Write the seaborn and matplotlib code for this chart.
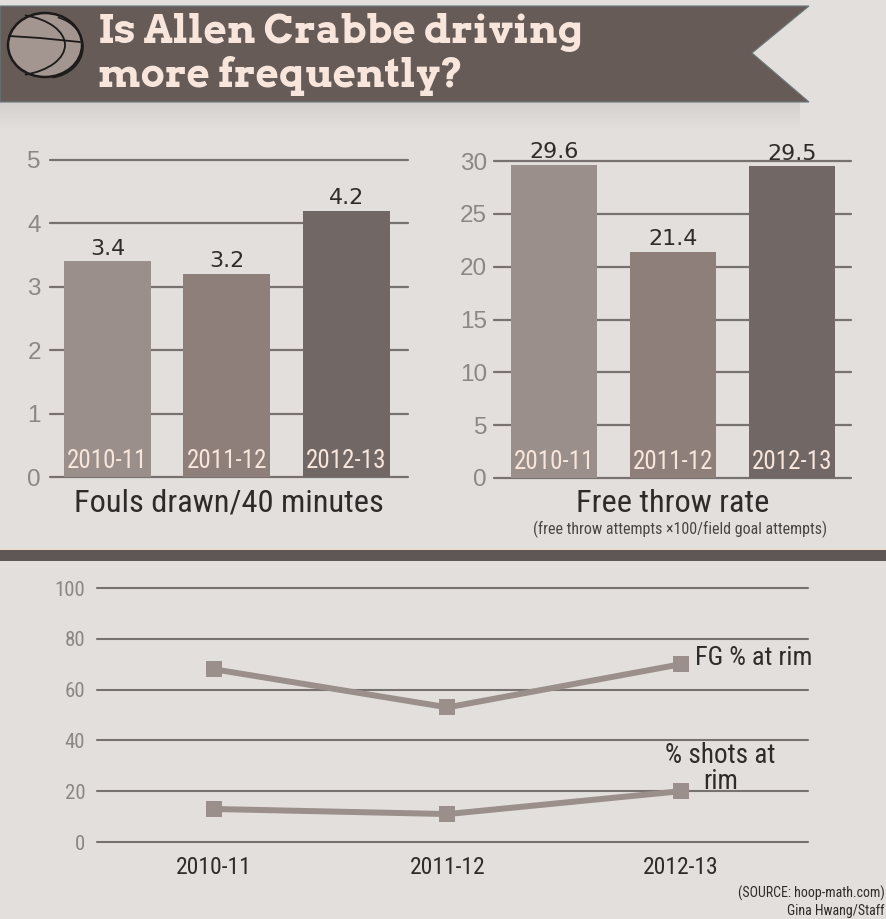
import numpy as np
import pandas as pd
import matplotlib
matplotlib.use("Agg")
import matplotlib.pyplot as plt
from matplotlib.patches import Polygon, Rectangle, Ellipse, Arc
import seaborn as sns

seasons = ["2010-11", "2011-12", "2012-13"]
fouls = [3.4, 3.2, 4.2]
ft_rate = [29.6, 21.4, 29.5]
fg_rim = [68, 53, 70]
shots_rim = [13, 11, 20]
fouls_ticks = [0, 1, 2, 3, 4, 5]
ft_ticks = [0, 5, 10, 15, 20, 25, 30]
pct_ticks = [0, 20, 40, 60, 80, 100]

W, H = 886, 919
BG = "#e3dfdc"
BAN = "#675b58"
PALE = "#f8e6dc"
GRID = "#77726f"
TICK = "#8b8785"
DARK = "#2e2b2a"
bar_cols = ["#9a8f8a", "#8e7f7a", "#716765"]
NARROW = ["Roboto Condensed", "Liberation Sans Narrow", "Liberation Sans"]
SLAB = ["Arvo", "DejaVu Serif"]

sns.set_theme(style="white", rc={"figure.facecolor": BG, "axes.facecolor": "none"})
plt.rcParams["font.family"] = ["Liberation Sans", "DejaVu Sans"]

fig = plt.figure(figsize=(W / 100, H / 100), dpi=100)


def px_axes(x0, y0, x1, y1, **kw):
    # pixel box (y from top) to figure fraction
    return fig.add_axes([x0 / W, 1 - y1 / H, (x1 - x0) / W, (y1 - y0) / H], **kw)


# background decoration in pixel coords
bg = px_axes(0, 0, W, H)
bg.axis("off")
shade = np.zeros((30, 1, 4))
shade[:, 0, 3] = np.linspace(0.07, 0, 30)
bg.imshow(shade, extent=[0, 800, 130, 102], aspect="auto")
bg.set_xlim(0, W)
bg.set_ylim(H, 0)
bg.add_patch(Polygon([(0, 6), (809, 6), (752, 53), (809, 102), (0, 102)], fc=BAN, ec="#6b7a7c", lw=0.8))
bg.add_patch(Rectangle((0, 550), W, 11, fc="#5f5755", ec="none"))
bg.add_patch(Rectangle((0, 549), W, 1, fc="#f0d8cc", ec="none"))

# basketball
bg.add_patch(Ellipse((45, 45), 74, 64, fc="#a3958f", ec="#1d1a1a", lw=1.8))
bg.add_patch(Arc((9, 45), 112, 62, theta1=-62, theta2=62, ec="#1d1a1a", lw=1.3))
bg.add_patch(Arc((47, 47), 72, 62, theta1=-70, theta2=80, ec="#1d1a1a", lw=1.1))
bg.plot([9, 40, 80], [36, 38, 42], color="#1d1a1a", lw=1.3)

bg.text(98, 32, "Is Allen Crabbe driving", color=PALE, fontsize=29, family=SLAB,
        fontweight="bold", va="center", ha="left")
bg.text(98, 76, "more frequently?", color=PALE, fontsize=29, family=SLAB,
        fontweight="bold", va="center", ha="left")
bg.text(885, 893, "(SOURCE: hoop-math.com)", color=DARK, fontsize=10, family=NARROW, ha="right", va="center")
bg.text(885, 911, "Gina Hwang/Staff", color=DARK, fontsize=10, family=NARROW, ha="right", va="center")


def bar_panel(box, values, ticks, xlim, label, pad, ymax):
    ax = px_axes(*box)
    df = pd.DataFrame({"season": seasons, "value": values})
    sns.barplot(data=df, x="season", y="value", hue="season", palette=bar_cols, saturation=1,
                width=0.727, legend=False, linewidth=0, ax=ax)
    ax.set_xlim(*xlim)
    ax.set_ylim(0, ymax)
    ax.set_yticks(ticks)
    ax.set_xticks([])
    ax.set_ylabel("")
    ax.set_xlabel(label, fontsize=23.3, family=NARROW, color=DARK, labelpad=8)
    ax.tick_params(axis="y", labelsize=17.5, labelcolor=TICK, length=0, pad=pad)
    ax.set_axisbelow(True)
    ax.grid(axis="y", color=GRID, lw=1.6)
    for g in ax.get_ygridlines():
        g.set_clip_on(False)
    sns.despine(ax=ax, left=True, bottom=True)
    for c in ax.containers:
        ax.bar_label(c, fmt="%.1f", fontsize=16, family="DejaVu Sans", color=DARK, padding=2)
    for i, s in enumerate(seasons):
        ax.text(i, 0.05, s, transform=ax.get_xaxis_transform(), color=PALE, fontsize=18,
                family=NARROW, ha="center", va="center", zorder=5)
    return ax


ax1 = bar_panel((50, 160, 408, 477), fouls, fouls_ticks, (-0.48, 2.515), "Fouls drawn/40 minutes", 6.5, 5)
ax2 = bar_panel((494, 161, 851, 478), ft_rate, ft_ticks, (-0.504, 2.496), "Free throw rate", 5, 30)
ax2.text(0.52, -0.161, "(free throw attempts ×100/field goal attempts)", transform=ax2.transAxes,
         fontsize=11.5, family=NARROW, color="#4a4645", ha="center", va="center")

# bottom line chart
ax3 = px_axes(97, 588, 808, 842)
line_df = pd.DataFrame({"season": seasons * 2,
                        "pct": fg_rim + shots_rim,
                        "kind": ["FG"] * 3 + ["Shots"] * 3})
sns.lineplot(data=line_df, x="season", y="pct", hue="kind", palette=["#9a8f8a", "#9a8f8a"],
             marker="s", markersize=11, markeredgewidth=0, linewidth=4.3, legend=False,
             sort=False, ax=ax3)
ax3.set_xlim(-0.501, 2.544)
ax3.set_ylim(0, 100)
ax3.set_yticks(pct_ticks)
ax3.set_xlabel("")
ax3.set_ylabel("")
ax3.tick_params(axis="y", labelsize=15, labelcolor=TICK, length=0, pad=8.5)
ax3.tick_params(axis="x", labelsize=17, labelcolor=DARK, length=0, pad=10)
for t in ax3.get_xticklabels() + ax3.get_yticklabels():
    t.set_family(NARROW)
ax3.set_axisbelow(True)
ax3.grid(axis="y", color=GRID, lw=1.5)
ax3.grid(axis="x", visible=False)
for g in ax3.get_ygridlines():
    g.set_clip_on(False)
sns.despine(ax=ax3, left=True, bottom=True)
ax3.text(2.06, 72.5, "FG % at rim", fontsize=19, family=NARROW, color=DARK, ha="left", va="center")
ax3.text(2.17, 29, "% shots at\nrim", fontsize=19.5, family=NARROW, color=DARK, ha="center", va="center",
         linespacing=0.95)

fig.savefig("out.png", dpi=100, facecolor=BG)
